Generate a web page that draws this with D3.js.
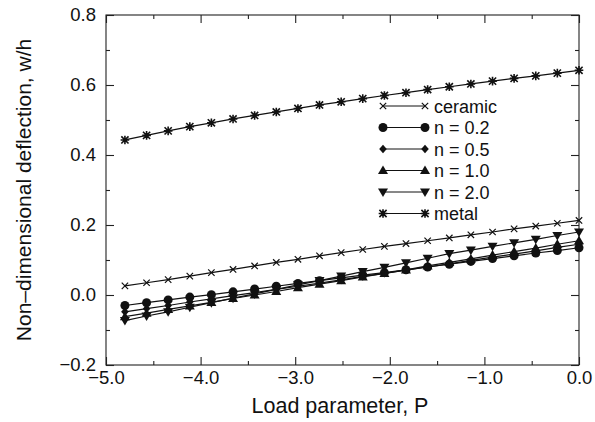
<!DOCTYPE html>
<html lang="en">
<head>
    <meta charset="UTF-8">
    <title>Deflection vs load parameter</title>
    <script src="https://d3js.org/d3.v7.min.js"></script>
    <style>
        body { margin: 0; background: #fff; }
        text { font-family: "Liberation Sans", Arial, sans-serif; fill: #111; }
    </style>
</head>
<body>
<svg id="chart"></svg>
<script>
    // load parameter P (22 steps from -4.8 to 0)
    const loadP = [-4.800, -4.571, -4.343, -4.114, -3.886, -3.657, -3.429, -3.200, -2.971, -2.743, -2.514,
        -2.286, -2.057, -1.829, -1.600, -1.371, -1.143, -0.914, -0.686, -0.457, -0.229, 0.000];

    const ceramic = [0.026, 0.035, 0.044, 0.054, 0.064, 0.073, 0.083, 0.093, 0.102, 0.112, 0.121,
        0.130, 0.139, 0.147, 0.155, 0.163, 0.172, 0.180, 0.189, 0.197, 0.205, 0.213];
    const n02 = [-0.030, -0.022, -0.014, -0.006, 0.001, 0.009, 0.017, 0.025, 0.033, 0.041, 0.049,
        0.057, 0.064, 0.072, 0.080, 0.088, 0.096, 0.104, 0.112, 0.120, 0.127, 0.135];
    const n05 = [-0.048, -0.039, -0.030, -0.020, -0.011, -0.002, 0.007, 0.016, 0.025, 0.034, 0.043,
        0.053, 0.062, 0.071, 0.080, 0.089, 0.099, 0.108, 0.117, 0.126, 0.136, 0.145];
    const n10 = [-0.062, -0.052, -0.041, -0.031, -0.021, -0.010, 0.000, 0.010, 0.021, 0.031, 0.041,
        0.052, 0.062, 0.072, 0.083, 0.093, 0.103, 0.114, 0.124, 0.134, 0.145, 0.155];
    const n20 = [-0.073, -0.060, -0.048, -0.035, -0.022, -0.009, 0.003, 0.016, 0.029, 0.041, 0.054,
        0.067, 0.079, 0.092, 0.105, 0.118, 0.128, 0.139, 0.149, 0.159, 0.170, 0.180];
    const metal = [0.443, 0.456, 0.469, 0.481, 0.492, 0.503, 0.513, 0.523, 0.533, 0.543, 0.552,
        0.561, 0.570, 0.578, 0.587, 0.595, 0.603, 0.611, 0.619, 0.626, 0.634, 0.642];

    const seriesNames = ["ceramic", "n = 0.2", "n = 0.5", "n = 1.0", "n = 2.0", "metal"];
    const seriesValues = [ceramic, n02, n05, n10, n20, metal];
    const seriesMarkers = ["cross", "circle", "diamond", "triUp", "triDown", "star"];

    const xTicks = [-5, -4, -3, -2, -1, 0];
    const yTicks = [-0.2, 0.0, 0.2, 0.4, 0.6, 0.8];

    const width = 595, height = 422;
    const mLeft = 106, mRight = 579, mTop = 15, mBottom = 365;

    const svg = d3.select("#chart").attr("width", width).attr("height", height);

    const x = d3.scaleLinear().domain([-5, 0]).range([mLeft, mRight]);
    const y = d3.scaleLinear().domain([-0.2, 0.8]).range([mBottom, mTop]);

    const fmt = d3.format(".1f");

    // frame
    svg.append("rect")
        .attr("x", mLeft).attr("y", mTop)
        .attr("width", mRight - mLeft).attr("height", mBottom - mTop)
        .attr("fill", "none").attr("stroke", "#222").attr("stroke-width", 1.1);

    function styleAxis(g) {
        g.select(".domain").remove();
        g.selectAll("line").attr("stroke", "#222").attr("stroke-width", 1.1);
        g.selectAll("text").style("font-size", "18.5px");
    }

    // major ticks (inward) with labels
    svg.append("g").attr("transform", `translate(0,${mBottom})`)
        .call(d3.axisBottom(x).tickValues(xTicks).tickFormat(fmt).tickSize(-8).tickPadding(6))
        .call(styleAxis);
    svg.append("g").attr("transform", `translate(${mLeft},0)`)
        .call(d3.axisLeft(y).tickValues(yTicks).tickFormat(fmt).tickSize(-8).tickPadding(10))
        .call(styleAxis);
    svg.append("g").attr("transform", `translate(0,${mTop})`)
        .call(d3.axisTop(x).tickValues(xTicks).tickFormat("").tickSize(-8))
        .call(styleAxis);
    svg.append("g").attr("transform", `translate(${mRight},0)`)
        .call(d3.axisRight(y).tickValues(yTicks).tickFormat("").tickSize(-8))
        .call(styleAxis);

    // minor ticks
    const xMinor = [-4.5, -3.5, -2.5, -1.5, -0.5];
    const yMinor = [-0.1, 0.1, 0.3, 0.5, 0.7];
    svg.append("g").attr("transform", `translate(0,${mBottom})`)
        .call(d3.axisBottom(x).tickValues(xMinor).tickFormat("").tickSize(-4)).call(styleAxis);
    svg.append("g").attr("transform", `translate(0,${mTop})`)
        .call(d3.axisTop(x).tickValues(xMinor).tickFormat("").tickSize(-4)).call(styleAxis);
    svg.append("g").attr("transform", `translate(${mLeft},0)`)
        .call(d3.axisLeft(y).tickValues(yMinor).tickFormat("").tickSize(-4)).call(styleAxis);
    svg.append("g").attr("transform", `translate(${mRight},0)`)
        .call(d3.axisRight(y).tickValues(yMinor).tickFormat("").tickSize(-4)).call(styleAxis);

    // axis titles
    svg.append("text")
        .attr("x", 340).attr("y", 413)
        .attr("text-anchor", "middle").style("font-size", "21.5px")
        .text("Load parameter, P");
    svg.append("text")
        .attr("transform", `translate(31,${(mTop + mBottom) / 2}) rotate(-90)`)
        .attr("text-anchor", "middle").style("font-size", "21px")
        .text("Non\u2013dimensional deflection, w/h");

    // marker drawing
    function drawMarker(g, type, cx, cy) {
        const c = "#111";
        if (type === "cross") {
            const s = 3.2;
            g.append("path").attr("d", `M${cx - s},${cy - s}L${cx + s},${cy + s}M${cx - s},${cy + s}L${cx + s},${cy - s}`)
                .attr("stroke", c).attr("stroke-width", 1.2);
        } else if (type === "circle") {
            g.append("circle").attr("cx", cx).attr("cy", cy).attr("r", 4.5).attr("fill", c);
        } else if (type === "diamond") {
            g.append("path").attr("transform", `translate(${cx},${cy})`)
                .attr("d", "M0,-4.2L3.8,0L0,4.2L-3.8,0Z").attr("fill", c);
        } else if (type === "triUp") {
            g.append("path").attr("transform", `translate(${cx},${cy})`)
                .attr("d", "M0,-5L5,3.6L-5,3.6Z").attr("fill", c);
        } else if (type === "triDown") {
            g.append("path").attr("transform", `translate(${cx},${cy})`)
                .attr("d", "M0,5L5,-3.6L-5,-3.6Z").attr("fill", c);
        } else if (type === "star") {
            const s = 3.6;
            g.append("path").attr("transform", `translate(${cx},${cy})`)
                .attr("d", `M${-s},${-s}L${s},${s}M${-s},${s}L${s},${-s}M0,${-s * 1.2}L0,${s * 1.2}M${-s * 1.2},0L${s * 1.2},0`)
                .attr("stroke", c).attr("stroke-width", 1.6);
        }
    }

    const line = d3.line().x(d => x(d[0])).y(d => y(d[1]));

    seriesValues.forEach((vals, i) => {
        const pts = loadP.map((p, k) => [p, vals[k]]);
        const g = svg.append("g");
        g.append("path").datum(pts).attr("d", line)
            .attr("fill", "none").attr("stroke", "#111").attr("stroke-width", 1.2);
        pts.forEach(p => drawMarker(g, seriesMarkers[i], x(p[0]), y(p[1])));
    });

    // legend
    const legX1 = 383, legX2 = 425, legY0 = 106, legStep = 21.5;
    seriesNames.forEach((name, i) => {
        const ly = legY0 + i * legStep;
        const g = svg.append("g");
        g.append("line").attr("x1", legX1).attr("x2", legX2).attr("y1", ly).attr("y2", ly)
            .attr("stroke", "#111").attr("stroke-width", 1);
        drawMarker(g, seriesMarkers[i], legX1, ly);
        drawMarker(g, seriesMarkers[i], legX2, ly);
        g.append("text").attr("x", legX2 + 9).attr("y", ly + 6.5)
            .style("font-size", "18px").text(name);
    });
</script>
</body>
</html>
